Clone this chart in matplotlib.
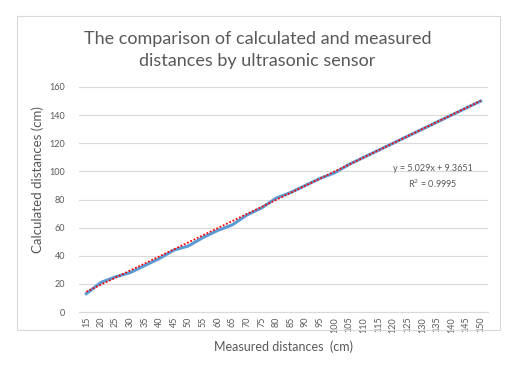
import numpy as np
import matplotlib.pyplot as plt
import matplotlib.patches as mpatches

measured = [15, 20, 25, 30, 35, 40, 45, 50, 55, 60, 65, 70, 75, 80,
            85, 90, 95, 100, 105, 110, 115, 120, 125, 130, 135, 140, 145, 150]
calculated = [13, 21, 25, 28, 33, 38, 44, 47, 53, 58, 62, 69, 74, 81,
              85, 90, 95, 99, 105, 110, 115, 120, 125, 130, 135, 140, 145, 150]
trend_slope = 5.029
trend_icept = 9.3651
r_squared = 0.9995

plt.rcParams['font.family'] = ['Lato', 'DejaVu Sans']
grey = '#595959'

fig = plt.figure(figsize=(5.15, 3.8), dpi=100)
fig.patches.append(mpatches.Rectangle((17 / 515, 1 - 330 / 380), 483 / 515, 314 / 380,
                                      transform=fig.transFigure, fill=False,
                                      edgecolor='#D9D9D9', linewidth=0.8))
ax = fig.add_axes([79 / 515, 1 - 312 / 380, 409 / 515, 225 / 380])

idx = np.arange(1, len(measured) + 1)
ax.plot(idx, calculated, color='#5B9BD5', linewidth=2.2, zorder=3)
trend = trend_slope * idx + trend_icept
ax.plot(idx, trend, color='#FF0000', linewidth=1.3, linestyle=(0, (1, 1)), zorder=4)

ax.set_xlim(0.5, len(measured) + 0.5)
ax.set_ylim(0, 160)
ax.set_yticks(range(0, 161, 20))
ax.set_xticks(idx)
ax.set_xticklabels([str(m) for m in measured], rotation=90)
ax.tick_params(axis='both', length=0, labelsize=6.5, colors=grey)
ax.tick_params(axis='y', pad=10)
ax.grid(axis='y', color='#D9D9D9', linewidth=0.8)
ax.set_axisbelow(True)
for s in ['top', 'right', 'left']:
    ax.spines[s].set_visible(False)
ax.spines['bottom'].set_color('#D9D9D9')

ax.set_xlabel('Measured distances  (cm)', fontsize=9, color=grey, labelpad=6)
fig.text(38 / 515, 1 - 180 / 380, 'Calculated distances (cm)', rotation=90,
         ha='center', va='center', fontsize=9.5, color=grey)
fig.text(0.5, 1 - 50 / 380, 'The comparison of calculated and measured\ndistances by ultrasonic sensor',
         ha='center', va='center', fontsize=13, color=grey, linespacing=1.45)

ax.text(24.7, 96, 'y = 5.029x + 9.3651\nR$^{2}$ = %.4f' % r_squared, ha='center', va='center',
        fontsize=6.5, color=grey, linespacing=1.4)

fig.savefig('out.png', dpi=100)
